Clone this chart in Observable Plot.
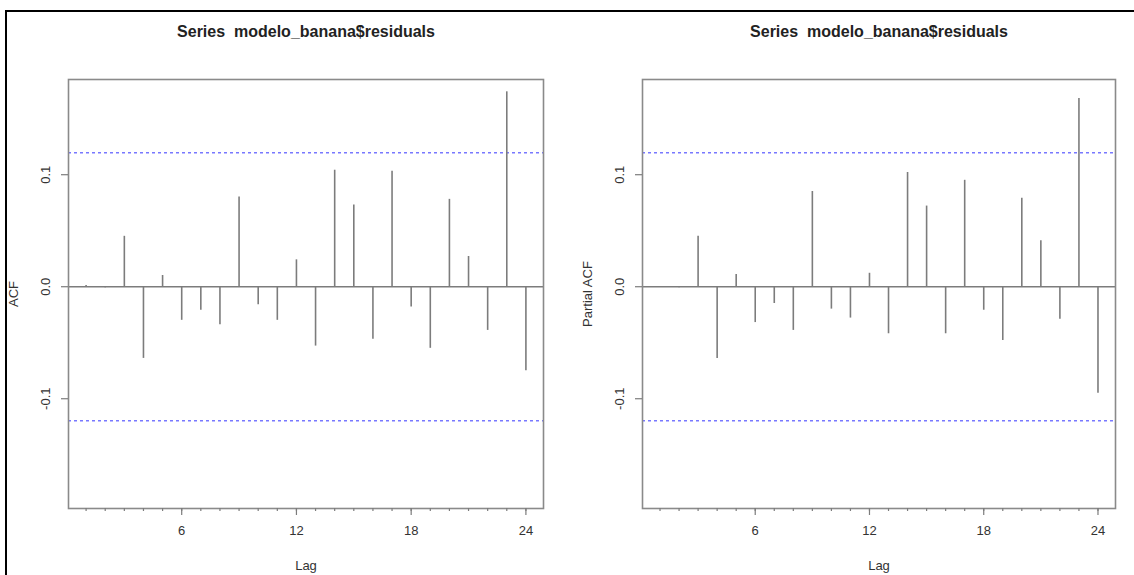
<!DOCTYPE html>
<html>
<head>
<meta charset="utf-8">
<script src="https://cdn.jsdelivr.net/npm/d3@7"></script>
<script src="https://cdn.jsdelivr.net/npm/@observablehq/plot@0.6"></script>
<style>
  body { margin: 0; background: #fff; }
  #wrap { position: relative; width: 1134px; height: 575px; overflow: hidden; background: #fff; }
  #left, #right { position: absolute; top: 0; }
  #left { left: 0; }
  #right { left: 567px; }
  #border { position: absolute; left: 5px; top: 10px; width: 1200px; height: 700px;
            border-top: 2px solid #000; border-left: 2px solid #000; pointer-events: none; }
  svg text { white-space: pre; }
</style>
</head>
<body>
<div id="wrap">
  <div id="left"></div>
  <div id="right"></div>
  <div id="border"></div>
</div>
<script>
// ---- data ----
const lags = [1,2,3,4,5,6,7,8,9,10,11,12,13,14,15,16,17,18,19,20,21,22,23,24];
const acfValues = [0.001,-0.001,0.045,-0.064,0.010,-0.030,-0.021,-0.034,0.080,-0.016,-0.030,0.024,
                   -0.053,0.104,0.073,-0.047,0.103,-0.018,-0.055,0.078,0.027,-0.039,0.174,-0.075];
const pacfValues = [0.000,-0.001,0.045,-0.064,0.011,-0.032,-0.015,-0.039,0.085,-0.020,-0.028,0.012,
                    -0.042,0.102,0.072,-0.042,0.095,-0.021,-0.048,0.079,0.041,-0.029,0.168,-0.095];
const ciBound = 0.1196;
const xTickValues = [6,12,18,24];
const yTickValues = [-0.1, 0.0, 0.1];
const titleText = "Series  modelo_banana$residuals";
const xLabel = "Lag";
const yLabels = ["ACF", "Partial ACF"];

const FONT = "'Liberation Sans', Arial, Helvetica, sans-serif";
const GRAY = "#7c7c7c";
const TEXT = "#333";

function panel(values, yLabel, mLeft, mRight, yLabelDx) {
  const data = lags.map((lag, i) => ({lag, value: values[i]}));
  return Plot.plot({
    width: 567,
    height: 575,
    marginLeft: mLeft,
    marginRight: mRight,
    marginTop: 79,
    marginBottom: 67,
    style: {fontFamily: FONT, background: "#fff", color: TEXT},
    x: {domain: [0.08, 24.92], label: null},
    y: {domain: [-0.198, 0.185], label: null},
    marks: [
      Plot.ruleY([ciBound, -ciBound], {stroke: "#7878ff", strokeWidth: 1.6, strokeDasharray: "3,3"}),
      Plot.ruleY([0], {stroke: GRAY, strokeWidth: 1.5}),
      Plot.ruleX(data, {x: "lag", y1: 0, y2: "value", stroke: GRAY, strokeWidth: 1.6}),
      Plot.frame({stroke: "#8a8a8a", strokeWidth: 1.6}),
      Plot.axisX({ticks: lags, tickSize: 3, tickFormat: () => "", stroke: GRAY, strokeWidth: 1.2}),
      Plot.axisX({ticks: xTickValues, tickSize: 7, tickPadding: 10, fontSize: 13,
                  stroke: GRAY, strokeWidth: 1.2, fill: TEXT, tickFormat: d => String(d)}),
      Plot.axisY({ticks: yTickValues, tickSize: 7, tickFormat: () => "", stroke: GRAY, strokeWidth: 1.2}),
      Plot.text(yTickValues, {x: 0.08, y: d => d, text: d => d3.format(".1f")(d).replace("−", "-"),
                  rotate: -90, dx: -23, fontSize: 13, fill: TEXT, textAnchor: "middle", lineAnchor: "middle"}),
      Plot.text([titleText], {frameAnchor: "top", dy: -48, fontSize: 16, fontWeight: "bold",
                  fill: "#222", lineAnchor: "middle"}),
      Plot.text([xLabel], {frameAnchor: "bottom", dy: 57, fontSize: 13, fill: TEXT, lineAnchor: "middle"}),
      Plot.text([yLabel], {frameAnchor: "left", dx: yLabelDx, rotate: -90, fontSize: 13,
                  fill: TEXT, textAnchor: "middle", lineAnchor: "middle"})
    ]
  });
}

document.getElementById("left").appendChild(panel(acfValues, yLabels[0], 68, 24, -55));
document.getElementById("right").appendChild(panel(pacfValues, yLabels[1], 75, 19, -55));
</script>
</body>
</html>
